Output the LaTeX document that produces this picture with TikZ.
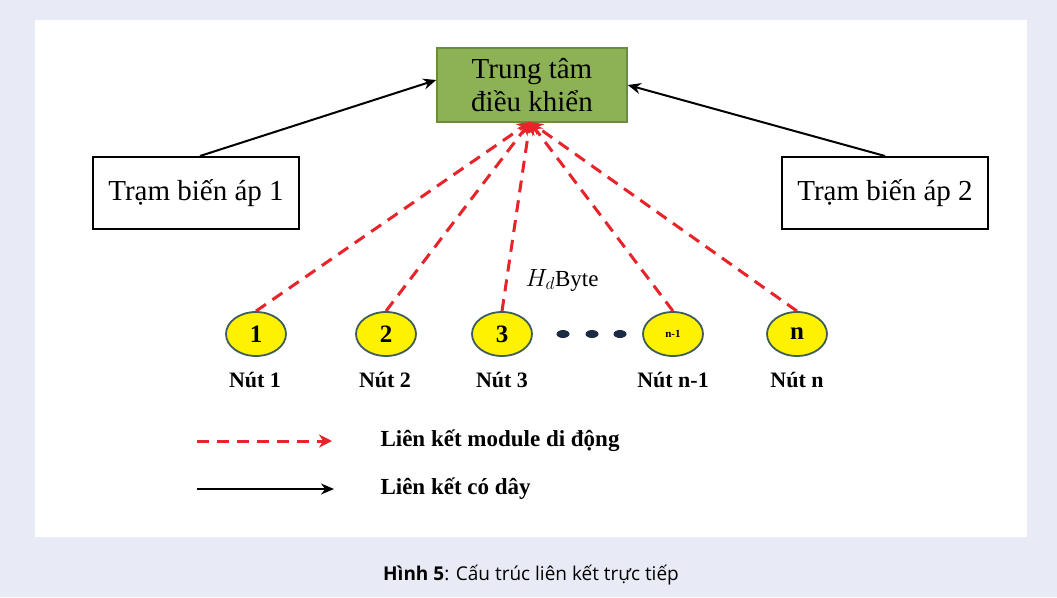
\documentclass[tikz,border=0pt]{standalone}
\usepackage{fontspec}
\setmainfont{Liberation Serif}
\newfontfamily\capfont{Open Sans}
\usetikzlibrary{shapes.geometric,arrows.meta}
\definecolor{pagebg}{HTML}{E8EBF6}
\definecolor{boxgreen}{HTML}{8DB255}
\definecolor{boxgreenline}{HTML}{6A8C3C}
\definecolor{nodeline}{HTML}{3E5C5C}
\definecolor{dotblue}{HTML}{1C2A44}
\definecolor{linkred}{HTML}{E8232A}
\tikzset{
  plainbox/.style={draw=black, line width=2pt, fill=white, minimum width=206pt, minimum height=72pt, font=\fontsize{29}{33}\selectfont},
  centerbox/.style={draw=boxgreenline, line width=1.6pt, fill=boxgreen, minimum width=190pt, minimum height=74pt, align=center, font=\fontsize{29}{33}\selectfont},
  station/.style={ellipse, draw=nodeline, line width=1.8pt, fill=yellow, minimum width=60pt, minimum height=44pt, inner sep=0pt, font=\bfseries\fontsize{25}{28}\selectfont},
  nodelabel/.style={font=\bfseries\fontsize{22}{26}\selectfont},
  wired/.style={draw=black, line width=2pt, -{Stealth[length=13pt,width=11pt]}},
  mobile/.style={draw=linkred, line width=3pt, dash pattern=on 12pt off 8pt, -{Stealth[length=13pt,width=13pt]}},
  dot/.style={ellipse, fill=dotblue, minimum width=13pt, minimum height=8pt, inner sep=0pt},
  legendtext/.style={anchor=west, font=\bfseries\fontsize{23}{27}\selectfont}
}
\begin{document}
\begin{tikzpicture}[x=1pt,y=-1pt]
  % page and panel
  \fill[pagebg] (0,0) rectangle (1057,597);
  \useasboundingbox (0,0) rectangle (1057,597);
  \fill[white] (35,20) rectangle (1027,537);

  % control centre and substations
  \node[centerbox] (ctrl) at (532,85) {Trung tâm\\điều khiển};
  \node[plainbox] (sub1) at (196,193) {Trạm biến áp 1};
  \node[plainbox] (sub2) at (885,193) {Trạm biến áp 2};

  % wired links to the control centre
  \draw[wired] (sub1.north) ++(4,0) -- (ctrl.west |- 0,80);
  \draw[wired] (sub2.north) -- (ctrl.east |- 0,85);

  % field nodes
  \node[station] (n1) at (256,334) {1};
  \node[station] (n2) at (386,334) {2};
  \node[station] (n3) at (502,334) {3};
  \node[station, font=\bfseries\fontsize{11}{12}\selectfont] (nm1) at (673,334) {n-1};
  \node[station] (nn) at (797,334) {n};

  \node[dot] (d1) at (563,334) {};
  \node[dot] (d2) at (592,334) {};
  \node[dot] (d3) at (620,334) {};

  \node[nodelabel] (l1) at (255,380) {Nút 1};
  \node[nodelabel] (l2) at (385,380) {Nút 2};
  \node[nodelabel] (l3) at (502,380) {Nút 3};
  \node[nodelabel] (l4) at (673,380) {Nút n-1};
  \node[nodelabel] (l5) at (797,380) {Nút n};

  % mobile module links converging under the control centre
  \coordinate (hub) at (530,122);
  \draw[mobile] (n1.north) -- (hub);
  \draw[mobile] (n2.north) -- (hub);
  \draw[mobile] (n3.north) -- (hub);
  \draw[mobile] (nm1.north) -- (hub);
  \draw[mobile] (nn.north) -- (hub);

  \node[font=\fontsize{23}{26}\selectfont] (hd) at (562,280) {$H_d$Byte};

  % legend
  \coordinate (lg1a) at (197,441);
  \coordinate (lg1b) at (332,441);
  \coordinate (lg2a) at (197,489);
  \coordinate (lg2b) at (334,489);
  \draw[mobile] (lg1a) -- (lg1b);
  \draw[wired] (lg2a) -- (lg2b);
  \node[legendtext] (t1) at (377,441) {Liên kết module di động};
  \node[legendtext] (t2) at (377,489) {Liên kết có dây};

  % caption
  \node[font=\capfont\fontsize{19}{22}\selectfont] (cap) at (531,575) {\textbf{Hình 5}: Cấu trúc liên kết trực tiếp};
\end{tikzpicture}
\end{document}
